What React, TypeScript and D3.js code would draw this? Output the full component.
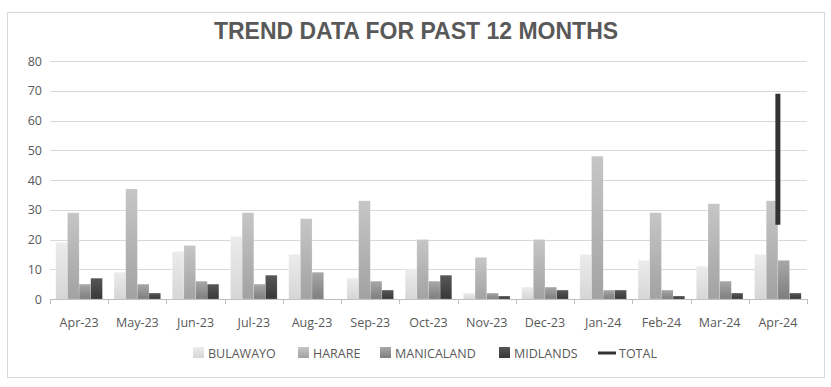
import React from "react";
import * as d3 from "d3";

const months = ["Apr-23", "May-23", "Jun-23", "Jul-23", "Aug-23", "Sep-23", "Oct-23", "Nov-23", "Dec-23", "Jan-24", "Feb-24", "Mar-24", "Apr-24"];
const seriesNames = ["BULAWAYO", "HARARE", "MANICALAND", "MIDLANDS"];
const bulawayo = [19, 9, 16, 21, 15, 7, 10, 2, 4, 15, 13, 11, 15];
const harare = [29, 37, 18, 29, 27, 33, 20, 14, 20, 48, 29, 32, 33];
const manicaland = [5, 5, 6, 5, 9, 6, 6, 2, 4, 3, 3, 6, 13];
const midlands = [7, 2, 5, 8, 0, 3, 8, 1, 3, 3, 1, 2, 2];
// TOTAL series only shows as a vertical segment at the last month
const totalMonth = "Apr-24";
const totalRange = [25, 69];
const yTicks = [0, 10, 20, 30, 40, 50, 60, 70, 80];

const W = 831, H = 387;
const margin = { top: 61, right: 24, bottom: 88, left: 50 };

const grads = [
  { top: "#ececec", bottom: "#d6d6d6" },
  { top: "#c6c6c6", bottom: "#a2a2a2" },
  { top: "#a8a8a8", bottom: "#7e7e7e" },
  { top: "#575757", bottom: "#383838" },
];

export default function App() {
  const x0 = d3.scaleBand().domain(months).range([margin.left, W - margin.right]);
  const x1 = d3.scaleBand().domain(seriesNames).range([0, x0.bandwidth()]).paddingOuter(0.5);
  const y = d3.scaleLinear().domain([0, 80]).range([H - margin.bottom, margin.top]);
  const values = [bulawayo, harare, manicaland, midlands];
  const font = "'Open Sans', 'Liberation Sans', sans-serif";
  const labelColor = "#595959";
  const baseY = y(0);

  const legendItems = [
    { name: "BULAWAYO", x: 193 },
    { name: "HARARE", x: 298 },
    { name: "MANICALAND", x: 380 },
    { name: "MIDLANDS", x: 499 },
  ];

  return (
    <svg width={W} height={H} style={{ position: "absolute", left: 0, top: 0, background: "#fff" }}>
      <defs>
        {grads.map((g, i) => (
          <linearGradient key={i} id={`g${i}`} x1="0" y1="0" x2="0" y2="1">
            <stop offset="0%" stopColor={g.top} />
            <stop offset="100%" stopColor={g.bottom} />
          </linearGradient>
        ))}
      </defs>
      <rect x={7.5} y={12.5} width={817} height={365} fill="#fff" stroke="#d9d9d9" />
      <text x={416} y={39} textAnchor="middle" fontFamily="'Liberation Sans Narrow', 'Liberation Sans', sans-serif"
        fontWeight="bold" fontSize={23} fill={labelColor}>TREND DATA FOR PAST 12 MONTHS</text>

      {/* gridlines + y labels */}
      {yTicks.map(t => (
        <g key={t}>
          {t > 0 && <line x1={margin.left} x2={W - margin.right} y1={Math.round(y(t)) + 0.5} y2={Math.round(y(t)) + 0.5} stroke="#d9d9d9" />}
          <text x={42} y={y(t) + 4.5} textAnchor="end" fontFamily={font} fontSize={12.5} fill={labelColor}>{t}</text>
        </g>
      ))}

      {/* bars */}
      {months.map((m, i) => (
        <g key={m} transform={`translate(${x0(m)},0)`}>
          {seriesNames.map((s, k) => {
            const v = values[k][i];
            return v > 0 ? (
              <rect key={s} x={x1(s)} y={y(v)} width={x1.bandwidth()} height={baseY - y(v)}
                fill={`url(#g${k})`} stroke="#ffffff" strokeOpacity={0.35} strokeWidth={0.5} />
            ) : null;
          })}
        </g>
      ))}

      {/* total line */}
      <line x1={(x0(totalMonth) as number) + x0.bandwidth() / 2} x2={(x0(totalMonth) as number) + x0.bandwidth() / 2}
        y1={y(totalRange[0])} y2={y(totalRange[1])} stroke="#333" strokeWidth={5} />

      {/* x axis */}
      <line x1={margin.left} x2={W - margin.right} y1={Math.round(baseY) + 0.5} y2={Math.round(baseY) + 0.5} stroke="#bfbfbf" />
      {[...months.map(m => x0(m) as number), W - margin.right].map((xx, i) => (
        <line key={i} x1={Math.round(xx) + 0.5} x2={Math.round(xx) + 0.5} y1={baseY} y2={baseY + 5} stroke="#bfbfbf" />
      ))}
      {months.map(m => (
        <text key={m} x={(x0(m) as number) + x0.bandwidth() / 2} y={327} textAnchor="middle"
          fontFamily={font} fontSize={12.5} fill={labelColor}>{m}</text>
      ))}

      {/* legend */}
      {legendItems.map((l, k) => (
        <g key={l.name}>
          <rect x={l.x} y={347} width={11} height={11} fill={`url(#g${k})`} />
          <text x={l.x + 15} y={357.5} fontFamily={font} fontSize={12.5} fill={labelColor}>{l.name}</text>
        </g>
      ))}
      <line x1={598} x2={616} y1={353} y2={353} stroke="#333" strokeWidth={3} />
      <text x={619} y={357.5} fontFamily={font} fontSize={12.5} fill={labelColor}>TOTAL</text>
    </svg>
  );
}
